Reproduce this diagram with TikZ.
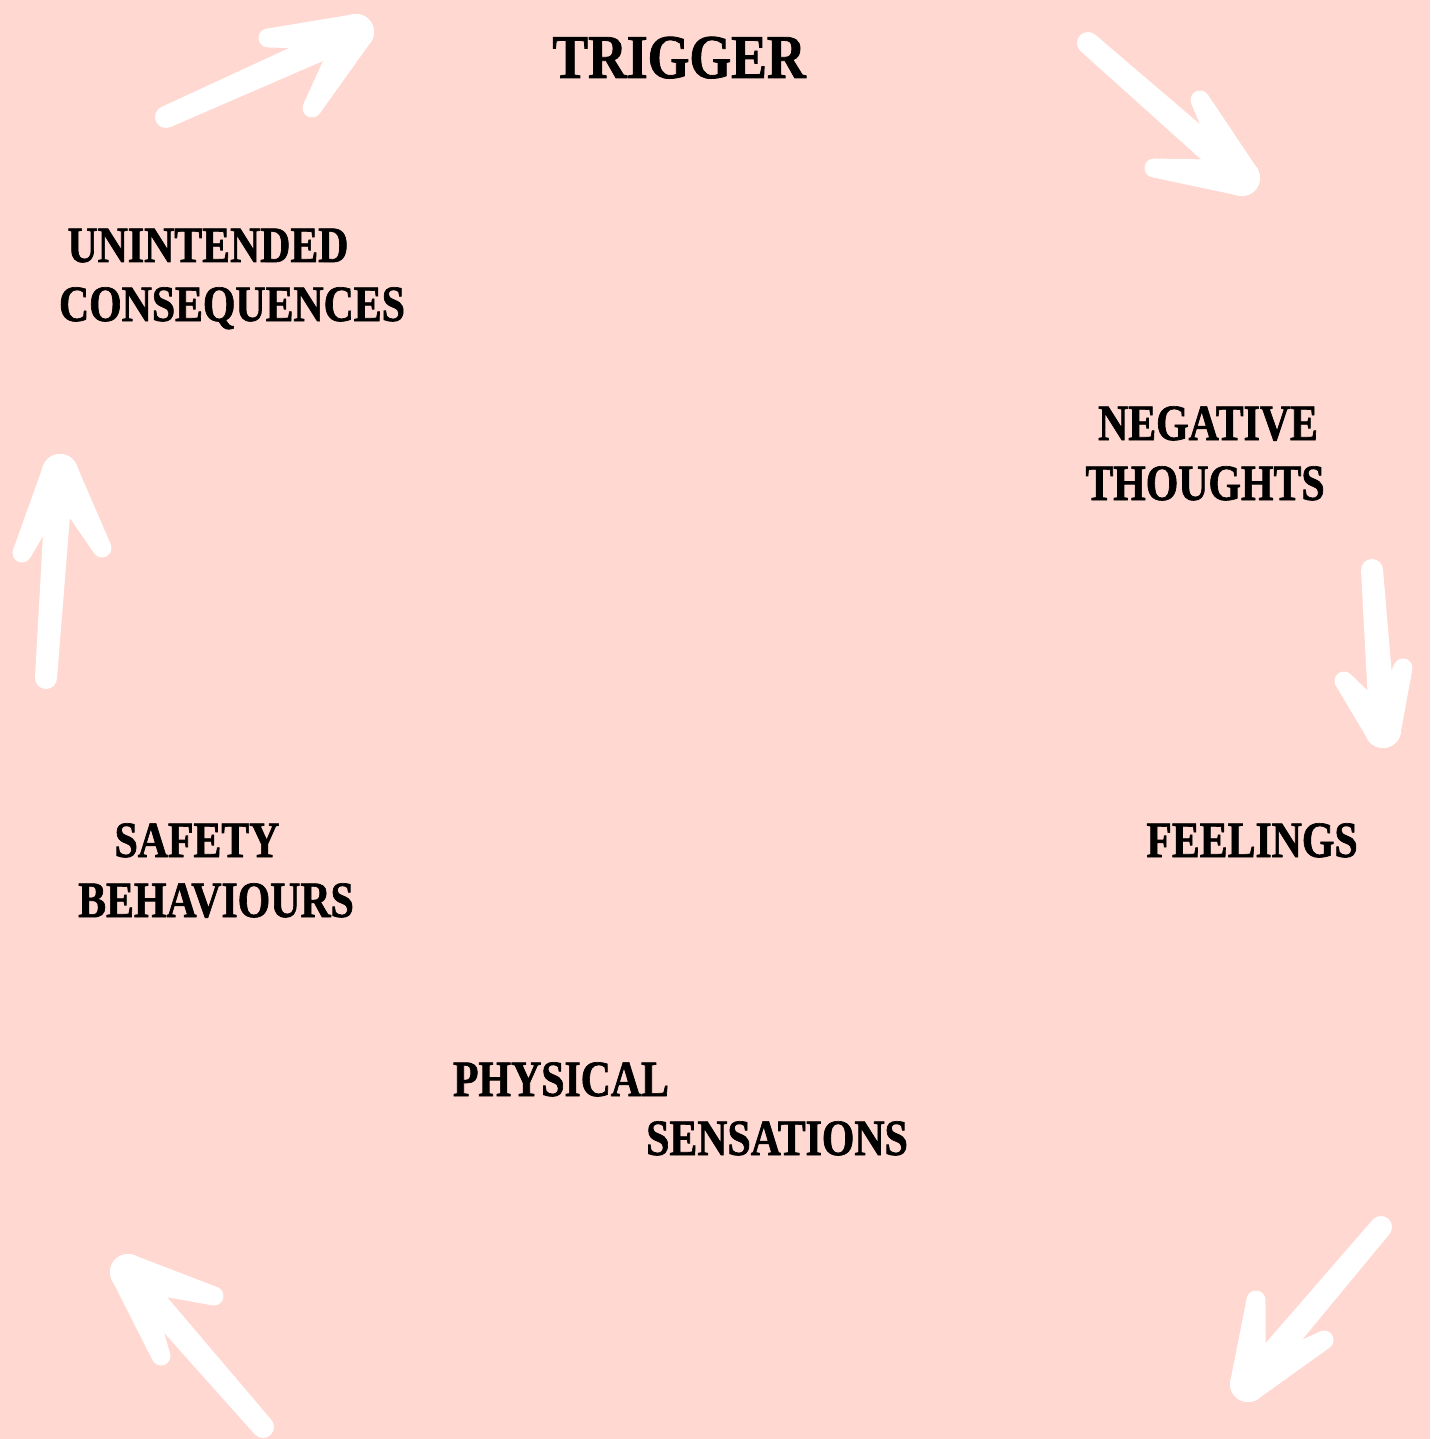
\documentclass[tikz,border=0pt]{standalone}
\usepackage{fontspec}
\usetikzlibrary{calc}
\newfontfamily\pf[FakeStretch=0.82,FakeBold=1.3]{Liberation Serif}
\newfontfamily\pfb[FakeStretch=0.86,FakeBold=1.3]{Liberation Serif}
\definecolor{bgpink}{HTML}{FFD8D1}
\tikzset{
  lbl/.style={inner sep=0pt, anchor=base, font=\pf\bfseries\fontsize{29}{34}\selectfont, text=black},
  bigl/.style={inner sep=0pt, anchor=base, font=\pfb\bfseries\fontsize{35.5}{40}\selectfont, text=black},
  brush/.style={fill=white},
}
% tapered brush stroke from #1 (half width #3) to #2 (half width #4)
\newcommand{\tstroke}[4]{%
  \fill[brush] ($(#1)!#3!90:(#2)$) -- ($(#2)!#4!-90:(#1)$) -- ($(#2)!#4!90:(#1)$) -- ($(#1)!#3!-90:(#2)$) -- cycle;
  \fill[brush] (#1) circle[radius=#3];
  \fill[brush] (#2) circle[radius=#4];
}
\newcommand{\brusharrow}[4]{% tail, head, barb1, barb2
  \tstroke{#1}{#2}{0.22cm}{0.27cm}
  \tstroke{#2}{#3}{0.36cm}{0.19cm}
  \tstroke{#2}{#4}{0.36cm}{0.19cm}
}
\begin{document}
\begin{tikzpicture}[x=0.02cm,y=-0.02cm]
\useasboundingbox (0,0) rectangle (1430,1439);
\fill[bgpink] (0,0) rectangle (1430,1439);

% labels
\node[bigl] (trig) at (679,78) {TRIGGER};
\node[lbl] (un1) at (208,262) {UNINTENDED};
\node[lbl] (un2) at (232,321) {CONSEQUENCES};
\node[lbl] (ng1) at (1208,440) {NEGATIVE};
\node[lbl] (ng2) at (1205,500) {THOUGHTS};
\node[lbl] (fe) at (1252,857) {FEELINGS};
\node[lbl] (sb1) at (197,857) {SAFETY};
\node[lbl] (sb2) at (216,917) {BEHAVIOURS};
\node[lbl] (ph1) at (561,1096) {PHYSICAL};
\node[lbl] (ph2) at (777,1155) {SENSATIONS};

% arrows
\coordinate (a1t) at (166,117); \coordinate (a1h) at (356,32);
\coordinate (a1u) at (268,38);  \coordinate (a1d) at (312,108);
\brusharrow{a1t}{a1h}{a1u}{a1d}

\coordinate (a2t) at (1088,43); \coordinate (a2h) at (1242,178);
\coordinate (a2u) at (1200,100);  \coordinate (a2d) at (1154,168);
\brusharrow{a2t}{a2h}{a2u}{a2d}

\coordinate (a3t) at (1372,570); \coordinate (a3h) at (1383,730);
\coordinate (a3u) at (1403,668);  \coordinate (a3d) at (1344,681);
\brusharrow{a3t}{a3h}{a3u}{a3d}

\coordinate (a4t) at (1381,1227); \coordinate (a4h) at (1248,1384);
\coordinate (a4u) at (1256,1300);  \coordinate (a4d) at (1324,1340);
\brusharrow{a4t}{a4h}{a4u}{a4d}

\coordinate (a5t) at (263,1427); \coordinate (a5h) at (128,1272);
\coordinate (a5u) at (214,1296);  \coordinate (a5d) at (161,1356);
\brusharrow{a5t}{a5h}{a5u}{a5d}

\coordinate (a6t) at (46,678); \coordinate (a6h) at (60,472);
\coordinate (a6u) at (22,553);  \coordinate (a6d) at (102,548);
\brusharrow{a6t}{a6h}{a6u}{a6d}
\end{tikzpicture}
\end{document}
